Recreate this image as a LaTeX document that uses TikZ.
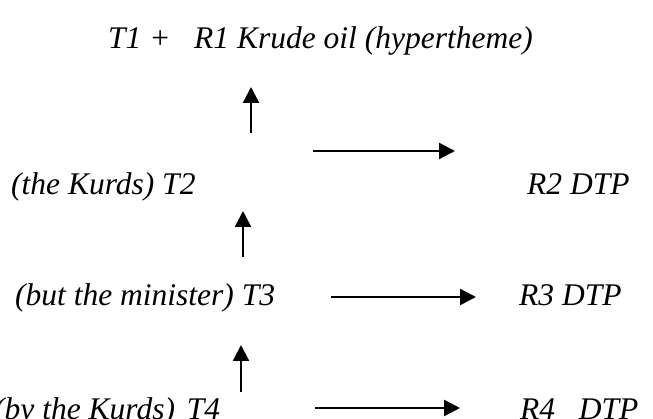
\documentclass[tikz,border=0pt]{standalone}
\usepackage{fontspec}
\setmainfont{Liberation Serif}
\usetikzlibrary{arrows.meta}
\tikzset{
  lbl/.style={anchor=base west, inner sep=0pt, font=\fontsize{31.5}{38}\selectfont\itshape, text=black},
  arr/.style={line width=2.3pt, -{Triangle[length=16pt,width=16pt]}}
}
\begin{document}
\begin{tikzpicture}[x=1pt,y=-1pt]
\useasboundingbox[fill=white] (0,0) rectangle (653,419);
% texts
\node[lbl] (t1) at (108,49) {T1 +\ \ \ R1 Krude oil (hypertheme)};
\node[lbl] (t2) at (11,195) {(the Kurds) T2};
\node[lbl] (r2) at (527,195) {R2 DTP};
\node[lbl] (t3) at (15,306) {(but the minister) T3};
\node[lbl] (r3) at (519,306) {R3 DTP};
\node[lbl] (t4) at (-6,419) {(by the Kurds)\hspace{12pt}T4};
\node[lbl] (r4) at (520,419) {R4\ \ \ DTP};
% arrow end points
\coordinate (a1s) at (251,133);
\coordinate (a1e) at (251,87);
\coordinate (h1s) at (313,151);
\coordinate (h1e) at (455,151);
\coordinate (a2s) at (243,257);
\coordinate (a2e) at (243,211);
\coordinate (h3s) at (331,297);
\coordinate (h3e) at (476,297);
\coordinate (a3s) at (241,392);
\coordinate (a3e) at (241,345);
\coordinate (h4s) at (315,408);
\coordinate (h4e) at (460,408);
% arrows
\draw[arr] (a1s) -- (a1e);
\draw[arr] (h1s) -- (h1e);
\draw[arr] (a2s) -- (a2e);
\draw[arr] (h3s) -- (h3e);
\draw[arr] (a3s) -- (a3e);
\draw[arr] (h4s) -- (h4e);
\end{tikzpicture}
\end{document}
